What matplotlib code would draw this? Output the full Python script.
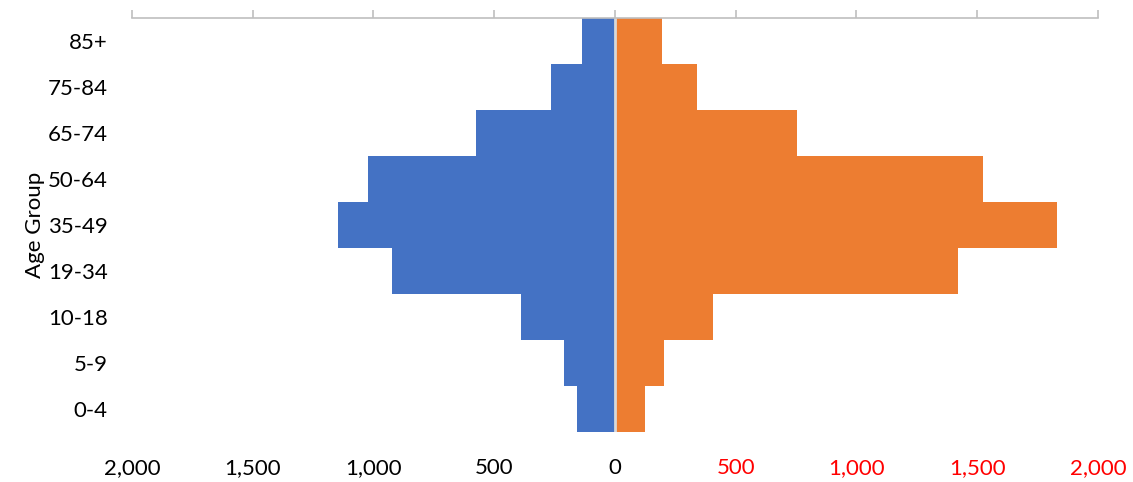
import matplotlib.pyplot as plt
from matplotlib.ticker import FuncFormatter

plt.rcParams['font.family'] = ['Lato', 'DejaVu Sans']

age_groups = ['0-4', '5-9', '10-18', '19-34', '35-49', '50-64', '65-74', '75-84', '85+']
left_vals = [157, 210, 389, 923, 1147, 1023, 577, 265, 137]
right_vals = [123, 204, 406, 1419, 1830, 1524, 752, 340, 195]
ticks = [-2000, -1500, -1000, -500, 0, 500, 1000, 1500, 2000]

fig = plt.figure(figsize=(11.33, 4.82), dpi=100)
ax = fig.add_axes([0.1165, 0.1037, 0.8525, 0.859])

y = range(len(age_groups))
ax.barh(y, [-v for v in left_vals], height=1.0, color='#4472c4', linewidth=0)
ax.barh(y, right_vals, height=1.0, color='#ed7d31', linewidth=0)
ax.axvline(0, color='#d9d9d9', lw=2)

ax.set_xlim(-2000, 2000)
ax.set_ylim(-0.5, len(age_groups) - 0.5)
ax.set_xticks(ticks)
ax.xaxis.set_major_formatter(FuncFormatter(lambda v, p: f'{abs(int(v)):,}'))
ax.set_yticks(list(y))
ax.set_yticklabels(age_groups)

for s in ['left', 'right', 'bottom']:
    ax.spines[s].set_visible(False)
ax.spines['top'].set_color('#bfbfbf')
ax.spines['top'].set_linewidth(1.2)

ax.tick_params(axis='x', top=True, bottom=False, labeltop=False, labelbottom=True,
               direction='out', color='#bfbfbf', width=1.2, length=6, labelsize=16, pad=13)
ax.tick_params(axis='y', left=False, labelsize=16, pad=14)

for lbl, v in zip(ax.get_xticklabels(), ticks):
    lbl.set_color('red' if v > 0 else 'black')

ax.set_ylabel('Age Group', fontsize=16, labelpad=2)

fig.savefig('out.png', dpi=100)
